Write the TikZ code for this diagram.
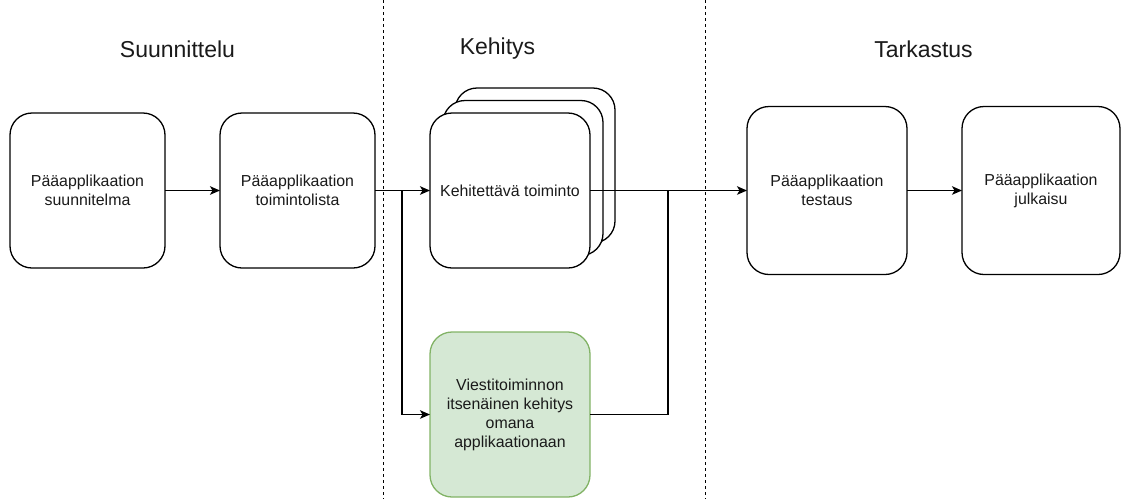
\documentclass[tikz,border=0pt]{standalone}
\usepackage{fontspec}
\setmainfont{Liberation Sans}
\usetikzlibrary{arrows.meta,calc}
\definecolor{devgreen}{HTML}{D5E8D4}
\definecolor{devgreenline}{HTML}{82B366}
\definecolor{ink}{HTML}{1A1A1A}
\begin{document}
\begin{tikzpicture}[x=1pt,y=-1pt,
  stagebox/.style={draw=black, fill=white, line width=1.3pt, rounded corners=22pt,
    align=center, inner sep=0pt, outer sep=0pt, text=ink,
    font=\fontsize{15.9}{19}\selectfont},
  flow/.style={line width=1.3pt, -{Stealth[length=10pt,width=8.5pt,inset=2.5pt]}},
  link/.style={line width=1.3pt},
  phase/.style={text=ink, font=\fontsize{23}{27}\selectfont},
  divider/.style={line width=1pt, dash pattern=on 3pt off 3pt}]
\useasboundingbox (0,0) rectangle (1122,499);

% phase dividers
\coordinate (d1top) at (383,0);
\coordinate (d1bot) at (383,499);
\coordinate (d2top) at (705,0);
\coordinate (d2bot) at (705,499);
\draw[divider] (d1top) -- (d1bot);
\draw[divider] (d2top) -- (d2bot);

% phase titles
\node[phase] (t1) at (177.5,49) {Suunnittelu};
\node[phase] (t2) at (497.5,49) {Kehitys};
\node[phase] (t3) at (923.5,49) {Tarkastus};

% planning
\node[stagebox, minimum width=155pt, minimum height=155pt] (plan) at (87.5,190.5)
  {Pääapplikaation\\suunnitelma};
\node[stagebox, minimum width=155pt, minimum height=155pt] (list) at (297.5,190.5)
  {Pääapplikaation\\toimintolista};

% development: stacked feature boxes
\node[stagebox, minimum width=160pt, minimum height=155pt] (devback) at (535,165.5) {};
\node[stagebox, minimum width=160pt, minimum height=155pt] (devmid) at (523,178) {};
\node[stagebox, minimum width=160pt, minimum height=155pt] (dev) at (510,190.5)
  {Kehitettävä toiminto};
\node[stagebox, draw=devgreenline, fill=devgreen, minimum width=160pt, minimum height=165pt]
  (msg) at (510,414.5)
  {Viestitoiminnon\\itsenäinen kehitys\\omana\\applikaationaan};

% review
\node[stagebox, minimum width=160pt, minimum height=168pt] (test) at (827,190.5)
  {Pääapplikaation\\testaus};
\node[stagebox, minimum width=158pt, minimum height=168pt] (pub) at (1041,190.5)
  {Pääapplikaation\\julkaisu};

% connectors
\coordinate (split) at ($(list.east)!0.49!(dev.west)$);
\coordinate (merge) at (668,190.5);
\draw[flow] (plan.east) -- (list.west);
\draw[flow] (list.east) -- (dev.west);
\draw[flow] (split) |- (msg.west);
\draw[flow] (dev.east) -- (test.west);
\draw[link] (msg.east) -| (merge);
\draw[flow] (test.east) -- (pub.west);
\end{tikzpicture}
\end{document}
